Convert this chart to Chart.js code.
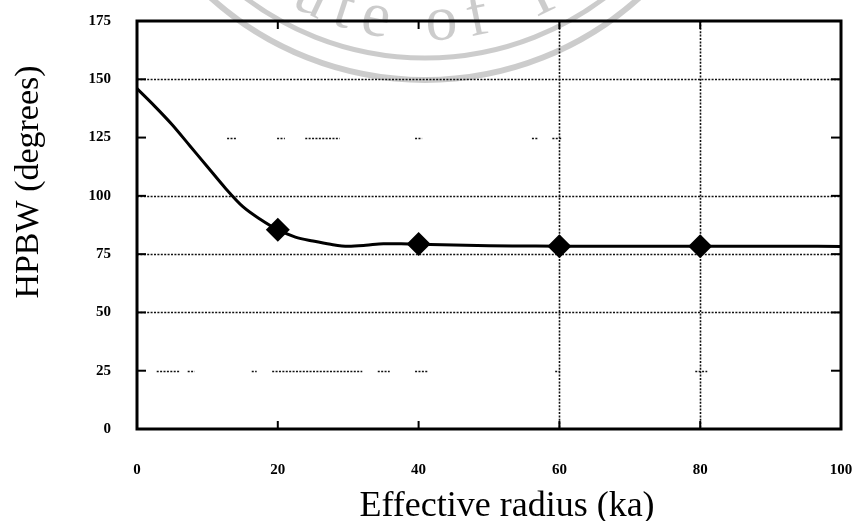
<!DOCTYPE html>
<html>
<head>
<meta charset="utf-8">
<title>HPBW vs effective radius</title>
<script src="https://cdn.jsdelivr.net/npm/chart.js@4.4.1/dist/chart.umd.min.js"></script>
<style>
  html, body { margin: 0; padding: 0; background: #fff; }
  canvas { display: block; }
</style>
</head>
<body>
<canvas id="chart" width="860" height="521"></canvas>
<script>
// Half-power beamwidth (degrees) against effective radius (ka)
const radiusKa = [0, 2.5, 5, 7.5, 10, 12.5, 15, 17.5, 20, 22.5, 25, 27.5, 30, 32.5, 35, 37.5, 40, 45, 50, 55, 60, 70, 80, 90, 100];
const hpbwDeg  = [146, 138.5, 130.5, 121.5, 112.5, 103.5, 95.5, 90, 85.5, 82.3, 80.6, 79.2, 78.4, 78.8, 79.5, 79.5, 79.3, 78.9, 78.6, 78.5, 78.4, 78.4, 78.4, 78.4, 78.3];

// Radii carrying a diamond marker
const markerRadii = [20, 40, 60, 80];

// Axis ticks
const xTickValues = [0, 20, 40, 60, 80, 100];
const yTickValues = [0, 25, 50, 75, 100, 125, 150, 175];

// Dotted reference lines
const fullGridY = [50, 75, 100, 150];
const fullGridX = [60, 80];
// Broken reference lines: pieces given as [from, to] along the x axis
const brokenGridY = {
  125: [[12.8, 14.2], [19.9, 21.0], [23.9, 28.8], [39.5, 40.5], [56.1, 57.0], [59.0, 60.4]],
  25:  [[2.8, 6.1], [7.2, 8.2], [16.3, 17.0], [19.2, 32.0], [34.2, 35.9], [39.5, 41.3], [59.4, 60.1], [79.3, 81.0]]
};
// Inward tick marks on the frame
const frameTicksX = [20, 40, 60, 80];
const frameTicksY = [25, 50, 75, 100, 125, 150];

const markerPoints = markerRadii.map(r => ({ x: r, y: hpbwDeg[radiusKa.indexOf(r)] }));
const curvePoints = radiusKa.map((r, i) => ({ x: r, y: hpbwDeg[i] }));

const X_TITLE = 'Effective radius (ka)';
const Y_TITLE = 'HPBW (degrees)';
const SEAL_TEXT = 'Institute of Technology';

const decor = {
  id: 'decor',
  beforeDraw(chart) {
    const ctx = chart.ctx;
    ctx.save();
    ctx.fillStyle = '#ffffff';
    ctx.fillRect(0, 0, chart.width, chart.height);

    // faint seal in the background
    const cx = 425, cy = -240;
    ctx.strokeStyle = 'rgba(0,0,0,0.2)';
    ctx.lineWidth = 6;
    ctx.beginPath(); ctx.arc(cx, cy, 320, 0, Math.PI); ctx.stroke();
    ctx.lineWidth = 5;
    ctx.beginPath(); ctx.arc(cx, cy, 298, 0, Math.PI); ctx.stroke();

    ctx.fillStyle = 'rgba(0,0,0,0.2)';
    ctx.font = '64px "Liberation Serif"';
    ctx.textAlign = 'center';
    ctx.textBaseline = 'alphabetic';
    const r = 280, spacing = 12;
    const adv = ch => ctx.measureText(ch).width + spacing;
    const ofIdx = SEAL_TEXT.indexOf('of');
    let before = 0;
    for (let i = 0; i < ofIdx; i++) before += adv(SEAL_TEXT[i]);
    before += adv('o') + ctx.measureText('f').width / 2 - ctx.measureText('o').width / 2;
    const thetaOf = Math.asin(40 / r);
    let s = thetaOf * r - before;
    for (const ch of SEAL_TEXT) {
      const w = ctx.measureText(ch).width;
      const th = (s + w / 2) / r;
      ctx.save();
      ctx.translate(cx + r * Math.sin(th), cy + r * Math.cos(th));
      ctx.rotate(-th);
      ctx.fillText(ch, 0, 0);
      ctx.restore();
      s += w + spacing;
    }
    ctx.restore();
  },
  beforeDatasetsDraw(chart) {
    const ctx = chart.ctx;
    const xs = chart.scales.x, ys = chart.scales.y;
    const { left, right, top, bottom } = chart.chartArea;
    ctx.save();
    ctx.strokeStyle = '#111';
    ctx.lineWidth = 1.6;
    ctx.setLineDash([2, 1.4]);
    for (const v of fullGridY) {
      const y = Math.round(ys.getPixelForValue(v)) + 0.5;
      ctx.beginPath(); ctx.moveTo(left, y); ctx.lineTo(right, y); ctx.stroke();
    }
    for (const v of fullGridX) {
      const x = Math.round(xs.getPixelForValue(v)) + 0.5;
      ctx.beginPath(); ctx.moveTo(x, top); ctx.lineTo(x, bottom); ctx.stroke();
    }
    for (const key of Object.keys(brokenGridY)) {
      const y = Math.round(ys.getPixelForValue(Number(key))) + 0.5;
      for (const [a, b] of brokenGridY[key]) {
        ctx.beginPath();
        ctx.moveTo(xs.getPixelForValue(a), y);
        ctx.lineTo(xs.getPixelForValue(b), y);
        ctx.stroke();
      }
    }
    ctx.setLineDash([]);

    // inward tick marks
    ctx.strokeStyle = '#000';
    ctx.lineWidth = 2;
    for (const v of frameTicksX) {
      const x = xs.getPixelForValue(v);
      ctx.beginPath(); ctx.moveTo(x, top); ctx.lineTo(x, top + 8); ctx.stroke();
      ctx.beginPath(); ctx.moveTo(x, bottom); ctx.lineTo(x, bottom - 8); ctx.stroke();
    }
    for (const v of frameTicksY) {
      const y = ys.getPixelForValue(v);
      ctx.beginPath(); ctx.moveTo(left, y); ctx.lineTo(left + 9, y); ctx.stroke();
      ctx.beginPath(); ctx.moveTo(right, y); ctx.lineTo(right - 10, y); ctx.stroke();
    }

    // frame
    ctx.lineWidth = 3;
    ctx.strokeRect(left, top, right - left, bottom - top);
    ctx.restore();
  },
  afterDraw(chart) {
    const ctx = chart.ctx;
    ctx.save();
    ctx.fillStyle = '#000';
    ctx.textBaseline = 'alphabetic';
    ctx.textAlign = 'center';
    ctx.font = '36px "Liberation Serif"';
    ctx.fillText(X_TITLE, 507, 516);
    ctx.translate(38, 182);
    ctx.rotate(-Math.PI / 2);
    ctx.font = '34px "Liberation Serif"';
    ctx.fillText(Y_TITLE, 0, 0);
    ctx.restore();
  }
};

const tickFont = { family: '"Liberation Serif", serif', size: 15, weight: 'bold' };

// fixed axis box sizes, no extra room for edge labels
const fitBox = (size, horizontal) => s => {
  if (horizontal) s.height = size; else s.width = size;
  s.paddingLeft = s.paddingRight = s.paddingTop = s.paddingBottom = 0;
};

new Chart(document.getElementById('chart'), {
  type: 'scatter',
  data: {
    datasets: [
      {
        data: curvePoints,
        showLine: true,
        borderColor: '#000',
        borderWidth: 3,
        pointRadius: 0,
        cubicInterpolationMode: 'monotone',
        fill: false
      },
      {
        data: markerPoints,
        showLine: false,
        pointStyle: 'rectRot',
        pointRadius: 12,
        pointBackgroundColor: '#000',
        pointBorderColor: '#000',
        pointBorderWidth: 0
      }
    ]
  },
  options: {
    responsive: false,
    animation: false,
    devicePixelRatio: 1,
    layout: { padding: { left: 0, right: 19, top: 21, bottom: 0 } },
    plugins: { legend: { display: false }, tooltip: { enabled: false } },
    scales: {
      x: {
        type: 'linear',
        min: 0, max: 100,
        afterFit: fitBox(92, true),
        afterBuildTicks: s => { s.ticks = xTickValues.map(v => ({ value: v })); },
        grid: { display: false, drawTicks: false },
        border: { display: false },
        ticks: { font: tickFont, color: '#000', padding: 32, maxRotation: 0, autoSkip: false }
      },
      y: {
        type: 'linear',
        min: 0, max: 175,
        afterFit: fitBox(137, false),
        afterBuildTicks: s => { s.ticks = yTickValues.map(v => ({ value: v })); },
        grid: { display: false, drawTicks: false },
        border: { display: false },
        ticks: { font: tickFont, color: '#000', padding: 26, autoSkip: false }
      }
    }
  },
  plugins: [decor]
});
</script>
</body>
</html>
